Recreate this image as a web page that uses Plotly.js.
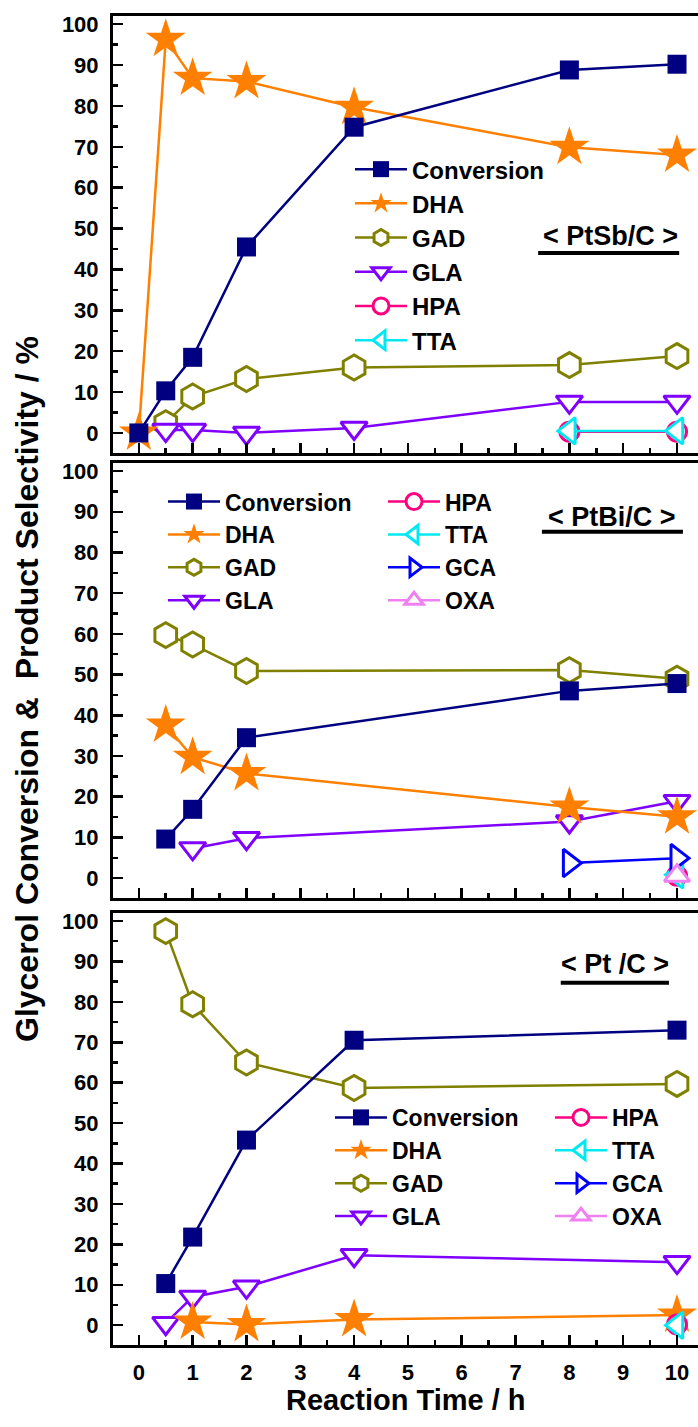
<!DOCTYPE html>
<html>
<head>
<meta charset="utf-8">
<script src="https://cdn.plot.ly/plotly-3.0.1.min.js"></script>
<style>html,body{margin:0;padding:0;background:#fff;}#chart{width:698px;height:1427px;}</style>
</head>
<body>
<div id="chart"></div>
<script>
// ---------- data ----------
// Panel 1: PtSb/C
const sbConvT = [0, 0.5, 1, 2, 4, 8, 10];
const sbConv  = [0, 10.3, 18.5, 45.5, 74.8, 88.8, 90.2];
const sbDHAT  = [0, 0.5, 1, 2, 4, 8, 10];
const sbDHA   = [0, 96.3, 86.8, 86.0, 79.7, 69.9, 68.0];
const sbGADT  = [0.5, 1, 2, 4, 8, 10];
const sbGAD   = [2.4, 8.9, 13.2, 16.0, 16.6, 18.8];
const sbGLAT  = [0.5, 1, 2, 4, 8, 10];
const sbGLA   = [0.7, 0.7, 0.0, 1.2, 7.6, 7.6];
const sbHPAT  = [8, 10];
const sbHPA   = [0.3, 0.3];
const sbTTAT  = [8, 10];
const sbTTA   = [0.5, 0.5];

// Panel 2: PtBi/C
const biConvT = [0.5, 1, 2, 8, 10];
const biConv  = [9.6, 16.9, 34.5, 46.0, 47.8];
const biDHAT  = [0.5, 1, 2, 8, 10];
const biDHA   = [37.6, 29.7, 25.7, 17.5, 15.1];
const biGADT  = [0.5, 1, 2, 8, 10];
const biGAD   = [59.7, 57.4, 50.9, 51.1, 49.0];
const biGLAT  = [1, 2, 8, 10];
const biGLA   = [7.3, 9.8, 13.9, 18.9];
const biHPAT  = [10];
const biHPA   = [0.6];
const biTTAT  = [10];
const biTTA   = [0.8];
const biGCAT  = [8, 10];
const biGCA   = [3.7, 4.9];
const biOXAT  = [10];
const biOXA   = [0.6];

// Panel 3: Pt/C (GCA and OXA are listed in the legend but show no visible point)
const ptConvT = [0.5, 1, 2, 4, 10];
const ptConv  = [10.3, 21.8, 45.8, 70.5, 73.0];
const ptDHAT  = [1, 2, 4, 10];
const ptDHA   = [0.8, 0.2, 1.4, 2.5];
const ptGADT  = [0.5, 1, 2, 4, 10];
const ptGAD   = [97.5, 79.4, 65.0, 58.7, 59.7];
const ptGLAT  = [0.5, 1, 2, 4, 10];
const ptGLA   = [0.5, 7.0, 9.5, 17.3, 15.6];
const ptHPAT  = [10];
const ptHPA   = [0.2];
const ptTTAT  = [10];
const ptTTA   = [0.0];
const ptGCAT  = [10];
const ptGCA   = [null];
const ptOXAT  = [10];
const ptOXA   = [null];

const xTickVals = [0, 1, 2, 3, 4, 5, 6, 7, 8, 9, 10];
const yTickVals = [0, 10, 20, 30, 40, 50, 60, 70, 80, 90, 100];
const panelLabels = ['&lt; PtSb/C &gt;', '&lt; PtBi/C &gt;', '&lt; Pt /C &gt;'];
const xTitle = 'Reaction Time / h';
const yTitle = 'Glycerol Conversion &amp;  Product Selectivity / %';

// ---------- styles ----------
const FONT = 'Liberation Sans, Arial, Helvetica, sans-serif';
const S = {
  Conversion: {color: '#000080', symbol: 'square', size: 19, fill: '#000080', lw: 0, rank: 1},
  DHA:        {color: '#FF8000', symbol: 'star', size: 30, fill: '#FF8000', lw: 0, rank: 2},
  GAD:        {color: '#808000', symbol: 'hexagon', size: 25, fill: '#ffffff', lw: 3, rank: 3},
  GLA:        {color: '#8000FF', symbol: 'triangle-down', size: 23, fill: '#ffffff', lw: 3, rank: 4},
  HPA:        {color: '#FF0080', symbol: 'circle', size: 19, fill: '#ffffff', lw: 3, rank: 5},
  TTA:        {color: '#00E8F0', symbol: 'triangle-left', size: 23, fill: '#ffffff', lw: 3, rank: 6},
  GCA:        {color: '#0000FF', symbol: 'triangle-right', size: 24, fill: '#ffffff', lw: 3, rank: 7},
  OXA:        {color: '#F080F0', symbol: 'triangle-up', size: 22, fill: '#ffffff', lw: 3, rank: 8}
};

function tr(name, xs, ys, panel, legend) {
  const s = S[name];
  return {
    type: 'scatter', mode: 'lines+markers', name: name,
    x: xs, y: ys,
    xaxis: panel === 1 ? 'x' : 'x' + panel,
    yaxis: panel === 1 ? 'y' : 'y' + panel,
    legend: legend, legendrank: s.rank,
    line: {color: s.color, width: 2.5},
    marker: {symbol: s.symbol, size: s.size, color: s.fill,
             line: {color: s.color, width: s.lw}},
    cliponaxis: false, hoverinfo: 'x+y+name'
  };
}

// drawing order (later = on top): GAD, GLA, DHA, HPA, TTA, GCA, OXA, Conversion
const data = [
  tr('GAD', sbGADT, sbGAD, 1, 'legend'),
  tr('GLA', sbGLAT, sbGLA, 1, 'legend'),
  tr('DHA', sbDHAT, sbDHA, 1, 'legend'),
  tr('HPA', sbHPAT, sbHPA, 1, 'legend'),
  tr('TTA', sbTTAT, sbTTA, 1, 'legend'),
  tr('Conversion', sbConvT, sbConv, 1, 'legend'),

  tr('GAD', biGADT, biGAD, 2, 'legend2'),
  tr('GLA', biGLAT, biGLA, 2, 'legend2'),
  tr('DHA', biDHAT, biDHA, 2, 'legend2'),
  tr('HPA', biHPAT, biHPA, 2, 'legend3'),
  tr('TTA', biTTAT, biTTA, 2, 'legend3'),
  tr('GCA', biGCAT, biGCA, 2, 'legend3'),
  tr('OXA', biOXAT, biOXA, 2, 'legend3'),
  tr('Conversion', biConvT, biConv, 2, 'legend2'),

  tr('GAD', ptGADT, ptGAD, 3, 'legend4'),
  tr('GLA', ptGLAT, ptGLA, 3, 'legend4'),
  tr('DHA', ptDHAT, ptDHA, 3, 'legend4'),
  tr('HPA', ptHPAT, ptHPA, 3, 'legend5'),
  tr('TTA', ptTTAT, ptTTA, 3, 'legend5'),
  tr('GCA', ptGCAT, ptGCA, 3, 'legend5'),
  tr('OXA', ptOXAT, ptOXA, 3, 'legend5'),
  tr('Conversion', ptConvT, ptConv, 3, 'legend4')
];

// ---------- layout ----------
const tickFont = {family: FONT, size: 22, color: '#000', weight: 'bold'};
function xax(showLabels, anchor) {
  return {
    anchor: anchor, domain: [0, 1], range: [-0.48, 10.39],
    tickmode: 'array', tickvals: xTickVals, ticktext: xTickVals.map(String),
    showticklabels: showLabels, tickfont: tickFont, ticklabelstandoff: 6,
    ticks: 'inside', ticklen: 10, tickwidth: 2.5, tickcolor: '#000',
    minor: {dtick: 0.5, tick0: 0, ticks: 'inside', ticklen: 5, tickwidth: 2.5, tickcolor: '#000', showgrid: false},
    showline: true, linewidth: 3, linecolor: '#000', mirror: true,
    showgrid: false, zeroline: false
  };
}
function yax(domain, anchor) {
  return {
    anchor: anchor, domain: domain, range: [-4.9, 102],
    tickmode: 'array', tickvals: yTickVals, ticktext: yTickVals.map(String),
    tickfont: tickFont, ticklabelstandoff: 7,
    ticks: 'inside', ticklen: 10, tickwidth: 2.5, tickcolor: '#000',
    minor: {dtick: 5, tick0: 0, ticks: 'inside', ticklen: 5, tickwidth: 2.5, tickcolor: '#000', showgrid: false},
    showline: true, linewidth: 3, linecolor: '#000', mirror: false,
    showgrid: false, zeroline: false
  };
}
function leg(x, y, fs) {
  return {x: x, y: y, xref: 'paper', yref: 'paper', xanchor: 'left', yanchor: 'top',
          bgcolor: 'rgba(0,0,0,0)', borderwidth: 0, tracegroupgap: 0, itemwidth: 52,
          font: {family: FONT, size: fs, color: '#000', weight: 'bold'}};
}
const labelFont = {family: FONT, size: 27, color: '#000', weight: 'bold'};
function ul(panel, x0, x1, y) {
  const xr = panel === 1 ? 'x' : 'x' + panel, yr = panel === 1 ? 'y' : 'y' + panel;
  return {type: 'line', xref: xr, yref: yr, x0: x0, x1: x1, y0: y, y1: y,
          line: {color: '#000', width: 4}};
}

const layout = {
  width: 698, height: 1427,
  margin: {l: 113, r: 0, t: 16, b: 82},
  paper_bgcolor: '#fff', plot_bgcolor: '#fff',
  showlegend: true,
  xaxis: xax(false, 'y'),
  xaxis2: xax(false, 'y2'),
  xaxis3: xax(true, 'y3'),
  yaxis: yax([0.6712, 1], 'x'),
  yaxis2: yax([0.3363, 0.6637], 'x2'),
  yaxis3: yax([0, 0.3251], 'x3'),
  legend: leg((412 - 62 - 113) / 585, 0.9014, 24),
  legend2: leg((225 - 62 - 113) / 585, 0.6508, 23),
  legend3: leg((445 - 62 - 113) / 585, 0.6508, 23),
  legend4: leg((392 - 62 - 113) / 585, 0.1874, 23),
  legend5: leg((612 - 62 - 113) / 585, 0.1874, 23),
  annotations: [
    {text: panelLabels[0], xref: 'x', yref: 'y', x: 8.77, y: 48.2, showarrow: false, font: labelFont, xanchor: 'center', yanchor: 'middle'},
    {text: panelLabels[1], xref: 'x2', yref: 'y2', x: 8.79, y: 88.8, showarrow: false, font: labelFont, xanchor: 'center', yanchor: 'middle'},
    {text: panelLabels[2], xref: 'x3', yref: 'y3', x: 8.85, y: 89.4, showarrow: false, font: labelFont, xanchor: 'center', yanchor: 'middle'},
    {text: xTitle, xref: 'paper', yref: 'paper', x: 0.5, y: -0.0414, showarrow: false,
     font: {family: FONT, size: 29, color: '#000', weight: 'bold'}, xanchor: 'center', yanchor: 'middle'},
    {text: yTitle, xref: 'paper', yref: 'paper', x: -0.1470, y: 0.4936, showarrow: false, textangle: -90,
     font: {family: FONT, size: 32, color: '#000', weight: 'bold'}, xanchor: 'center', yanchor: 'middle'}
  ],
  shapes: [
    ul(1, 7.42, 10.04, 44.0),
    ul(2, 7.49, 10.11, 85.1),
    ul(3, 7.84, 9.85, 84.7)
  ]
};

Plotly.newPlot('chart', data, layout, {displayModeBar: false, staticPlot: true});
</script>
</body>
</html>
